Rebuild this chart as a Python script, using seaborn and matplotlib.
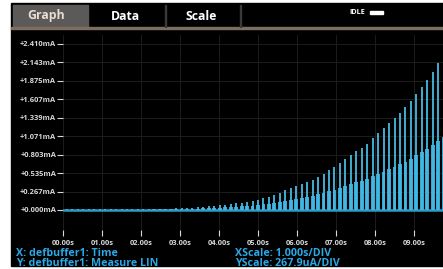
import numpy as np
import matplotlib
matplotlib.use("Agg")
import matplotlib.pyplot as plt
from matplotlib.patches import Rectangle
import seaborn as sns

# pulse peaks (mA), one per pulse
peak_ma = [
    0.008, 0.008, 0.008, 0.009, 0.009, 0.009, 0.010, 0.010, 0.010, 0.011,
    0.011, 0.012, 0.012, 0.013, 0.014, 0.015, 0.016, 0.017, 0.019, 0.021,
    0.024, 0.027, 0.030, 0.034, 0.038, 0.046, 0.055, 0.062, 0.070, 0.079,
    0.088, 0.097, 0.108, 0.120, 0.135, 0.150, 0.170, 0.195, 0.220, 0.250,
    0.285, 0.315, 0.345, 0.375, 0.405, 0.440, 0.480, 0.530, 0.580, 0.630,
    0.680, 0.740, 0.800, 0.850, 0.900, 0.960, 1.040, 1.120, 1.190, 1.260,
    1.330, 1.410, 1.490, 1.590, 1.690, 1.790, 1.890, 2.000, 2.135, 2.250,
]
# lower (wide) part of each pulse, mA
plateau_ma = [
    0.004, 0.004, 0.004, 0.004, 0.004, 0.004, 0.005, 0.005, 0.005, 0.005,
    0.005, 0.006, 0.006, 0.006, 0.007, 0.007, 0.008, 0.008, 0.009, 0.010,
    0.011, 0.013, 0.014, 0.016, 0.018, 0.022, 0.026, 0.029, 0.033, 0.037,
    0.041, 0.046, 0.051, 0.056, 0.063, 0.071, 0.080, 0.092, 0.103, 0.118,
    0.134, 0.148, 0.162, 0.176, 0.190, 0.207, 0.226, 0.249, 0.273, 0.296,
    0.320, 0.348, 0.376, 0.400, 0.423, 0.451, 0.489, 0.526, 0.559, 0.592,
    0.625, 0.663, 0.700, 0.747, 0.794, 0.841, 0.888, 0.940, 1.003, 1.058,
]
pulse_t = np.round(0.10 + 0.14 * np.arange(len(peak_ma)), 2)

y_ticks = [0.0, 0.2679, 0.5358, 0.8037, 1.0716, 1.3395, 1.6074, 1.8753, 2.1432, 2.4111]
y_labels = ["+0.000mA", "+0.267mA", "+0.535mA", "+0.803mA", "+1.071mA",
            "+1.339mA", "+1.607mA", "+1.875mA", "+2.143mA", "+2.410mA"]
x_ticks = [0, 1, 2, 3, 4, 5, 6, 7, 8, 9]
x_labels = ["00.00s", "01.00s", "02.00s", "03.00s", "04.00s",
            "05.00s", "06.00s", "07.00s", "08.00s", "09.00s"]
tabs = ["Graph", "Data", "Scale"]

W, H = 443, 269
CYAN = "#35a9d6"
TXT = "#2aa9e6"

sns.set_style("dark", {"axes.facecolor": "black", "grid.color": "#1c1c1c"})
plt.rcParams["font.family"] = ["Open Sans", "DejaVu Sans"]

fig = plt.figure(figsize=(W / 100, H / 100), dpi=100, facecolor="white")

def box(x0, y0, w, h, color, z):
    # pixel box (top-left origin) -> figure rectangle
    fig.patches.append(Rectangle((x0 / W, 1 - (y0 + h) / H), w / W, h / H,
                                 transform=fig.transFigure, color=color, zorder=z))

# screen background
box(11, 3, 432, 263, "black", -5)
# tab bar
box(13, 5, 75, 22, "#5c5a58", 1)
box(11, 27, 432, 2, "#7d6d5e", 1)
for xs in [165, 240]:
    box(xs, 5, 1, 22, "#3a3a3a", 1)
for name, cx, col in zip(tabs, [46, 125, 201], ["#e6ddd5", "white", "white"]):
    fig.text(cx / W, 1 - 16 / H, name, ha="center", va="center",
             fontsize=8.8, fontweight="bold", color=col)
fig.text(357 / W, 1 - 13 / H, "IDLE", ha="center", va="center",
         fontsize=5.2, fontweight="bold", color="white")
box(370, 11, 13, 3, "white", 2)

# plot area: 0 mA at y=210px, 2.411 mA at y=44px
ax_top, ax_bot = 35, 230
mpp = 2.4111 / (210 - 44)
ax = fig.add_axes(((63) / W, 1 - ax_bot / H, (W - 63) / W, (ax_bot - ax_top) / H))
ax.set_facecolor("black")

sns.barplot(x=pulse_t, y=plateau_ma, native_scale=True, width=0.7,
            color=CYAN, saturation=1, errorbar=None, ax=ax, zorder=3,
            edgecolor="none", linewidth=0)
ax.vlines(pulse_t, 0, peak_ma, color="#46b8e2", lw=1.3, zorder=4)
ax.axhline(0, color="#2d9cc4", lw=1.8, zorder=2)

ax.set_xlim(0, (W - 63) / 39.0)
ax.set_ylim(-(ax_bot - 210) * mpp, 2.4111 + (44 - ax_top) * mpp)
ax.set_xticks(x_ticks)
ax.set_xticklabels(x_labels)
ax.set_yticks(y_ticks)
ax.set_yticklabels(y_labels)
ax.set_xlabel("")
ax.set_ylabel("")
ax.grid(True, color="#1c1c1c", lw=0.7)
for s in ax.spines.values():
    s.set_visible(False)
ax.tick_params(axis="y", colors="#d8d8d8", length=4, width=0.8, pad=1,
               labelsize=5.4, direction="out", left=True)
ax.tick_params(axis="x", colors="#d8d8d8", length=4, width=0.8, pad=3,
               labelsize=5.4, direction="out", bottom=True)
for lab in ax.get_xticklabels() + ax.get_yticklabels():
    lab.set_fontweight("bold")

# footer
for txt, x, y in [("X: defbuffer1: Time", 16, 253),
                  ("Y: defbuffer1: Measure LIN", 16, 263),
                  ("XScale: 1.000s/DIV", 235, 253),
                  ("YScale: 267.9uA/DIV", 235, 263)]:
    fig.text(x / W, 1 - y / H, txt, fontsize=7.7, fontweight="bold",
             color=TXT, va="center")

fig.savefig("out.png", dpi=100, facecolor="white")
